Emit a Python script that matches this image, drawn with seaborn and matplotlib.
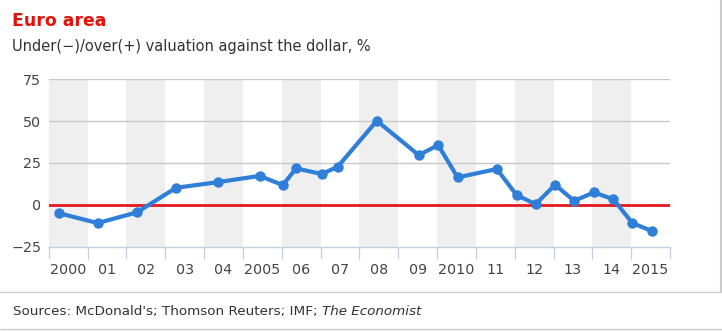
import matplotlib
matplotlib.use("Agg")
import matplotlib.pyplot as plt
from matplotlib.lines import Line2D
import numpy as np
import pandas as pd
import seaborn as sns

# Survey dates (decimal years) and Big Mac index valuation of the euro, %
survey_dates = [2000.27, 2001.26, 2002.27, 2003.28, 2004.37, 2005.43, 2006.03,
                2006.37, 2007.03, 2007.44, 2008.45, 2009.53, 2010.03, 2010.53,
                2011.54, 2012.05, 2012.54, 2013.04, 2013.53, 2014.04, 2014.54,
                2015.03, 2015.53]
valuation = [-5.0, -10.9, -4.5, 10.2, 13.6, 17.3, 11.8, 21.8, 18.4, 22.7, 50.2,
             29.7, 35.7, 16.4, 21.4, 5.8, 0.4, 12.0, 2.4, 7.4, 3.4, -10.9, -15.6]

years = list(range(2000, 2016))
year_labels = ["2000", "01", "02", "03", "04", "2005", "06", "07", "08", "09",
               "2010", "11", "12", "13", "14", "2015"]
y_ticks = [-25, 0, 25, 50, 75]
y_tick_labels = ["\u221225", "0", "25", "50", "75"]

title = "Euro area"
subtitle = "Under(\u2212)/over(+) valuation against the dollar, %"

sns.set_theme(style="white")
plt.rcParams["font.family"] = ["DejaVu Sans"]

W, H = 722, 331
fig = plt.figure(figsize=(W / 100, H / 100), dpi=100)

left, right = 48.7, 670.0
top, bottom = 79.3, 246.7
ax = fig.add_axes([left / W, 1 - bottom / H, (right - left) / W, (bottom - top) / H])

# alternating shaded year bands
for y in years:
    if y % 2 == 0:
        ax.axvspan(y, y + 1, color="#efefef", lw=0, zorder=0)

# horizontal gridlines
for v in y_ticks[2:]:
    ax.axhline(v, color="#c8c8c8", lw=1.0, zorder=1)
ax.axhline(0, color="#e3191f", lw=2.0, zorder=2)

df = pd.DataFrame({"date": survey_dates, "valuation": valuation})
sns.lineplot(data=df, x="date", y="valuation", ax=ax, color="#2f7ed8",
             lw=3.0, marker="o", markersize=7.5, markeredgewidth=0,
             zorder=5, clip_on=False)

ax.set_xlim(2000, 2016)
ax.set_ylim(-25, 75)
ax.set_xlabel("")
ax.set_ylabel("")

for s in ["top", "right", "left"]:
    ax.spines[s].set_visible(False)
ax.spines["bottom"].set_color("#c0d0e0")
ax.spines["bottom"].set_linewidth(1.0)

# x: tick lines at year boundaries, labels in the middle of each year
ax.set_xticks(years + [2016])
ax.set_xticklabels([])
ax.tick_params(axis="x", which="major", length=8.5, width=0.9,
               color="#c0d0e0", direction="out", bottom=True)
ax.set_xticks([y + 0.5 for y in years], minor=True)
ax.set_xticklabels(year_labels, minor=True, fontsize=10.3, color="#444444")
ax.tick_params(axis="x", which="minor", length=0, pad=11.5)

ax.set_yticks(y_ticks)
ax.set_yticklabels(y_tick_labels, fontsize=10.3, color="#444444")
ax.tick_params(axis="y", length=0, pad=5.5, left=False)

# header
fig.text(12 / W, 1 - 26 / H, title, fontsize=12.4, fontweight="bold",
         color="#e3120b", va="baseline", ha="left")
fig.text(12 / W, 1 - 50.7 / H, subtitle, fontsize=10.5, color="#333333",
         va="baseline", ha="left")

# frame and footer rules
fig.add_artist(Line2D([0, 720.5 / W], [1 - 292.3 / H] * 2, color="#cccccc",
                      lw=1.0, transform=fig.transFigure))
fig.add_artist(Line2D([720.5 / W] * 2, [1 - 292.3 / H, 1], color="#cccccc",
                      lw=1.5, transform=fig.transFigure))
fig.add_artist(Line2D([0, 1], [1 - 329 / H] * 2, color="#cccccc",
                      lw=1.0, transform=fig.transFigure))

fig.text(13 / W, 1 - 315 / H, "Sources: McDonald's; Thomson Reuters; IMF; ",
         fontsize=9.7, color="#333333", va="baseline", ha="left")
src = fig.texts[-1]
fig.canvas.draw()
bb = src.get_window_extent()
fig.text(bb.x1 / W, 1 - 315 / H, "The Economist", fontsize=9.7, style="italic",
         color="#333333", va="baseline", ha="left")

fig.savefig("out.png", dpi=100, facecolor="white")
